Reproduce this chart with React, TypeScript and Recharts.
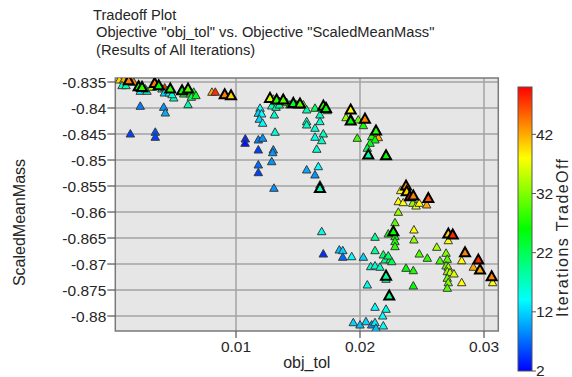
import React from 'react';
import { ScatterChart, Scatter, XAxis, YAxis, CartesianGrid, ReferenceArea } from 'recharts';

// [obj_tol, ScaledMeanMass, iteration]
type Pt = [number, number, number];

// points drawn with the heavy black outline
const frontPoints: Pt[] = [
  [0.00135, -0.83475, 44], [0.00215, -0.8359, 26], [0.00242, -0.83602, 28], [0.00344, -0.83525, 44],
  [0.00377, -0.83571, 26], [0.0047, -0.83635, 28], [0.00565, -0.83667, 26], [0.00613, -0.83635, 30],
  [0.00909, -0.83744, 44], [0.0096, -0.83763, 40], [0.01274, -0.83813, 36], [0.01328, -0.83846, 28],
  [0.01381, -0.83846, 30], [0.01462, -0.8391, 24], [0.01516, -0.83923, 30], [0.01704, -0.83962, 28],
  [0.01726, -0.84006, 26], [0.01677, -0.85544, 17], [0.01925, -0.84038, 38], [0.01925, -0.8425, 26],
  [0.0204, -0.84212, 44], [0.02129, -0.84442, 28], [0.02067, -0.84904, 18], [0.0221, -0.84917, 26],
  [0.02371, -0.855, 44], [0.02377, -0.8561, 40], [0.02403, -0.85706, 48], [0.0243, -0.85692, 44],
  [0.02551, -0.85737, 46], [0.02269, -0.86379, 26], [0.02712, -0.86423, 40], [0.02748, -0.86442, 48],
  [0.02847, -0.86783, 44], [0.02954, -0.86923, 48], [0.02968, -0.87115, 42], [0.03062, -0.87244, 44],
  [0.0221, -0.87231, 19], [0.02236, -0.87615, 20],
];

const otherPoints: Pt[] = [
  // upper left
  [0.00059, -0.83462, 40], [0.00094, -0.83462, 42], [0.00175, -0.83506, 44], [0.00081, -0.83571, 17],
  [0.00113, -0.83571, 18], [0.00228, -0.83679, 13], [0.00282, -0.83679, 16], [0.00269, -0.83635, 24],
  [0.00323, -0.83602, 34], [0.00403, -0.83635, 16], [0.00425, -0.83615, 48], [0.00444, -0.83667, 18],
  [0.00422, -0.83712, 12], [0.00462, -0.83712, 14], [0.00498, -0.83808, 17], [0.00484, -0.83744, 16],
  [0.00578, -0.83731, 24], [0.00631, -0.83731, 27], [0.00659, -0.83698, 26], [0.0064, -0.83794, 22],
  [0.00677, -0.83763, 25], [0.00613, -0.83937, 18], [0.00806, -0.83698, 42], [0.00833, -0.83698, 48],
  [0.00228, -0.83967, 8], [0.00417, -0.83987, 9], [0.0043, -0.84096, 10], [0.00148, -0.845, 5],
  [0.00349, -0.84467, 6], [0.00349, -0.84563, 5], [0.01075, -0.84596, 4], [0.01073, -0.84679, 3],
  // middle
  [0.01301, -0.83833, 38], [0.01349, -0.83879, 42], [0.01409, -0.83898, 28], [0.01435, -0.83942, 26],
  [0.0149, -0.83942, 27], [0.01543, -0.83942, 34], [0.0157, -0.84038, 18], [0.01637, -0.84006, 22],
  [0.01736, -0.84052, 26], [0.01288, -0.83962, 17], [0.01323, -0.83987, 18], [0.01349, -0.83942, 19],
  [0.01194, -0.84006, 14], [0.0118, -0.84102, 12], [0.01207, -0.84115, 14], [0.01188, -0.84217, 12],
  [0.01215, -0.84294, 14], [0.01309, -0.84135, 16], [0.01677, -0.84135, 17], [0.01677, -0.84263, 16],
  [0.0157, -0.84263, 17], [0.0157, -0.84327, 17], [0.01637, -0.8439, 16], [0.01315, -0.84467, 16],
  [0.01704, -0.845, 17], [0.01637, -0.84563, 15], [0.01691, -0.84629, 17], [0.01651, -0.84794, 16],
  [0.0118, -0.84615, 8], [0.01215, -0.84583, 9], [0.0118, -0.84808, 5], [0.01301, -0.84808, 9],
  [0.01296, -0.8486, 9], [0.01288, -0.85033, 9], [0.0118, -0.85096, 7], [0.0118, -0.85244, 5],
  [0.0157, -0.85192, 10], [0.01664, -0.85129, 14], [0.01637, -0.85288, 9], [0.01677, -0.85481, 16],
  [0.01306, -0.85544, 9],
  // right upper
  [0.01887, -0.84187, 33], [0.01925, -0.84198, 22], [0.01986, -0.84231, 30], [0.02027, -0.8434, 27],
  [0.01978, -0.84583, 29], [0.02148, -0.84571, 42], [0.02094, -0.84552, 28], [0.02121, -0.84615, 26],
  [0.02081, -0.84679, 25], [0.02059, -0.84775, 22],
  // right lower
  [0.02328, -0.8559, 38], [0.02309, -0.85802, 38], [0.02349, -0.85821, 38], [0.02425, -0.85833, 33],
  [0.02452, -0.85885, 37], [0.02478, -0.85833, 38], [0.02538, -0.85865, 42], [0.02309, -0.86006, 33],
  [0.02282, -0.86206, 30], [0.02121, -0.86487, 19], [0.02228, -0.86423, 26], [0.02282, -0.86475, 26],
  [0.02282, -0.86571, 27], [0.02282, -0.86667, 28], [0.02435, -0.86346, 38], [0.02435, -0.86538, 33],
  [0.02712, -0.86552, 38], [0.02619, -0.86679, 34], [0.0282, -0.86937, 38], [0.02914, -0.87063, 42],
  [0.0307, -0.8736, 38], [0.02694, -0.86794, 32], [0.02704, -0.8691, 30], [0.02694, -0.87038, 31],
  [0.02712, -0.87063, 34], [0.02704, -0.87148, 33], [0.02726, -0.87167, 35], [0.02758, -0.87192, 36],
  [0.02704, -0.87275, 31], [0.02712, -0.8736, 32], [0.02704, -0.87467, 30], [0.02645, -0.8694, 29],
  [0.02478, -0.86808, 30], [0.02543, -0.8689, 28], [0.02371, -0.87083, 26], [0.0243, -0.87129, 27],
  [0.0243, -0.87423, 26], [0.0282, -0.8736, 38], [0.02121, -0.86744, 19], [0.02188, -0.86827, 21],
  [0.02202, -0.86923, 20], [0.02242, -0.86923, 21], [0.02256, -0.86956, 22], [0.02228, -0.86846, 21],
  [0.02086, -0.87052, 16], [0.02121, -0.87038, 16], [0.02161, -0.87063, 17], [0.0221, -0.87294, 18],
  [0.02059, -0.87404, 15], [0.02121, -0.87833, 14], [0.0221, -0.87871, 15], [0.02183, -0.88, 14],
  [0.01833, -0.86731, 11], [0.01861, -0.86744, 12], [0.01861, -0.86871, 7], [0.01933, -0.8686, 14],
  [0.02027, -0.86871, 12], [0.01946, -0.88129, 12], [0.02, -0.88173, 11], [0.02048, -0.8811, 12],
  [0.02094, -0.88173, 9], [0.02121, -0.88129, 13], [0.02129, -0.88237, 11], [0.02188, -0.88192, 14],
  [0.01691, -0.86379, 15], [0.01704, -0.86808, 4],
];

const xDomain = [0.000266, 0.031153];
const yDomain = [-0.88288, -0.83423];
const xTicks = [0.01, 0.02, 0.03];
const yTicks = [-0.88, -0.875, -0.87, -0.865, -0.86, -0.855, -0.85, -0.845, -0.84, -0.835];
const iterRange = [2, 50];
const colorTicks = [2, 12, 22, 32, 42];

const FONT = '"Liberation Sans", Arial, sans-serif';
const TEXT = '#262626';

const iterColor = (v: number) => {
  const t = (v - iterRange[0]) / (iterRange[1] - iterRange[0]);
  return `hsl(${Math.round(240 * (1 - t))}, 100%, 50%)`;
};

const toRows = (pts: Pt[]) => pts.map(([x, y, iter]) => ({ x, y, iter }));

const Tri = (props: any) => {
  const { cx, cy, payload, bold } = props;
  if (cx == null || cy == null) return null;
  const w = bold ? 10 : 8.5;
  const h = bold ? 9 : 7.5;
  const pts = `${cx},${cy - h * 0.6} ${cx - w / 2},${cy + h * 0.4} ${cx + w / 2},${cy + h * 0.4}`;
  return (
    <polygon
      points={pts}
      fill={iterColor(payload.iter)}
      stroke={bold ? '#000' : '#3a3a3a'}
      strokeWidth={bold ? 2 : 1}
      strokeLinejoin="miter"
    />
  );
};

// colour bar geometry
const BAR_X = 518;
const BAR_W = 14;
const BAR_TOP = 87;
const BAR_BOTTOM = 371;
const barY = (v: number) =>
  BAR_BOTTOM - ((v - iterRange[0]) / (iterRange[1] - iterRange[0])) * (BAR_BOTTOM - BAR_TOP);

export default function App() {
  return (
    <div style={{ position: 'absolute', left: 0, top: 0, width: 572, height: 377, background: '#fff' }}>
      <ScatterChart width={572} height={377} margin={{ top: 78, right: 73.7, bottom: 16, left: 55.3 }}>
        <CartesianGrid
          fill="#e6e6e6"
          fillOpacity={1}
          stroke="#a3a3a3"
          strokeWidth={1.5}
          horizontalValues={yTicks}
          verticalValues={xTicks}
        />
        <XAxis
          type="number"
          dataKey="x"
          domain={xDomain}
          allowDataOverflow
          ticks={xTicks}
          tickFormatter={(v) => String(v)}
          height={30}
          axisLine={false}
          tickSize={7}
          tickMargin={3}
          tickLine={{ stroke: '#555', strokeWidth: 1.2 }}
          tick={{ fill: TEXT, fontSize: 15.5, fontFamily: FONT }}
        />
        <YAxis
          type="number"
          dataKey="y"
          domain={yDomain}
          allowDataOverflow
          ticks={yTicks}
          tickFormatter={(v) => String(v)}
          width={60}
          axisLine={false}
          tickSize={8}
          tickMargin={1}
          tickLine={{ stroke: '#555', strokeWidth: 1.2 }}
          tick={{ fill: TEXT, fontSize: 15.5, fontFamily: FONT }}
        />
        <ReferenceArea
          x1={xDomain[0]}
          x2={xDomain[1]}
          y1={yDomain[0]}
          y2={yDomain[1]}
          fill="none"
          stroke="#7a7a7a"
          strokeWidth={1.5}
        />
        <Scatter data={toRows(otherPoints)} isAnimationActive={false} shape={(p: any) => <Tri {...p} bold={false} />} />
        <Scatter data={toRows(frontPoints)} isAnimationActive={false} shape={(p: any) => <Tri {...p} bold />} />
      </ScatterChart>

      <svg
        width={572}
        height={377}
        style={{ position: 'absolute', left: 0, top: 0, pointerEvents: 'none' }}
        fontFamily={FONT}
      >
        <defs>
          <linearGradient id="iterGrad" x1="0" y1="0" x2="0" y2="1">
            <stop offset="0" stopColor="#ff0000" />
            <stop offset="0.25" stopColor="#ffff00" />
            <stop offset="0.5" stopColor="#00ff00" />
            <stop offset="0.75" stopColor="#00ffff" />
            <stop offset="1" stopColor="#0000ff" />
          </linearGradient>
        </defs>
        <text x={93} y={19.5} fontSize={14.7} fill={TEXT}>Tradeoff Plot</text>
        <text x={96} y={37} fontSize={14.7} fill={TEXT} style={{ whiteSpace: 'pre' }}>
          Objective "obj_tol" vs. Objective "ScaledMeanMass"
        </text>
        <text x={96} y={54.5} fontSize={14.7} fill={TEXT}>(Results of All Iterations)</text>

        <text x={306.8} y={368} fontSize={16} fill={TEXT} textAnchor="middle">obj_tol</text>
        <text
          x={0}
          y={0}
          fontSize={16}
          fill={TEXT}
          textAnchor="middle"
          transform="translate(25,222.5) rotate(-90)"
        >
          ScaledMeanMass
        </text>

        <rect x={BAR_X} y={BAR_TOP} width={BAR_W} height={BAR_BOTTOM - BAR_TOP} fill="url(#iterGrad)" stroke="#555" strokeWidth={1} />
        {colorTicks.map((t) => (
          <g key={t}>
            <line x1={BAR_X + BAR_W} x2={BAR_X + BAR_W + 4} y1={barY(t)} y2={barY(t)} stroke="#555" strokeWidth={1} />
            <text x={BAR_X + BAR_W + 4} y={barY(t)} dy="0.34em" fontSize={15.5} fill={TEXT}>{t}</text>
          </g>
        ))}
        <text
          x={0}
          y={0}
          fontSize={16}
          fill={TEXT}
          textAnchor="middle"
          textLength={158}
          lengthAdjust="spacing"
          transform="translate(568,238) rotate(-90)"
        >
          Iterations TradeOff
        </text>
      </svg>
    </div>
  );
}
